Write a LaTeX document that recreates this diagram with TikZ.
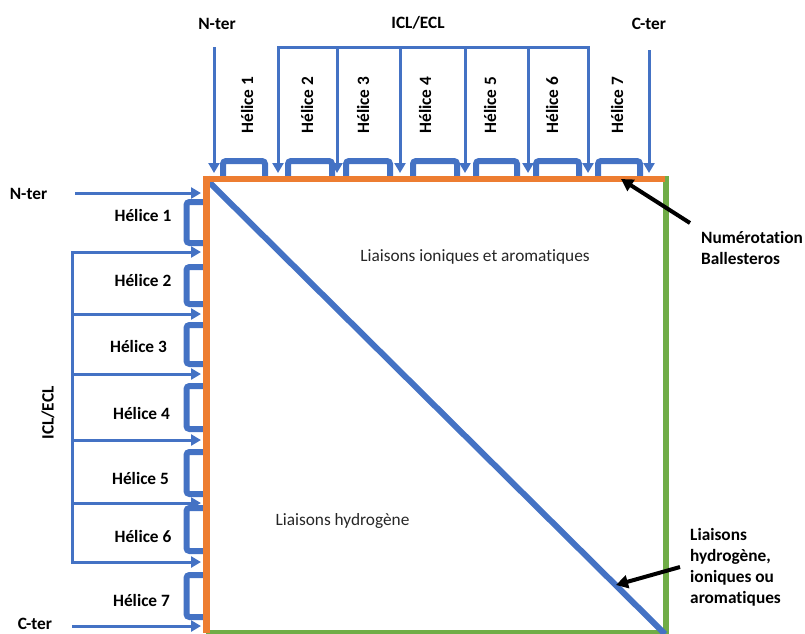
\documentclass[tikz,border=0pt]{standalone}
\usepackage{fontspec}
\setmainfont{Carlito}[Ligatures=NoCommon]
\usetikzlibrary{arrows.meta}
\definecolor{oblue}{HTML}{4472C4}
\definecolor{oorange}{HTML}{ED7D31}
\definecolor{ogreen}{HTML}{70AD47}
\definecolor{otext}{HTML}{262626}
\tikzset{
  barr/.style={draw=oblue, line width=3pt, -{Triangle[width=11pt,length=10pt]}},
  barrboth/.style={draw=oblue, line width=3pt, {Triangle[width=11pt,length=10pt]}-{Triangle[width=11pt,length=10pt]}},
  bracket/.style={draw=oblue, line width=6pt, rounded corners=3pt},
  karr/.style={draw=black, line width=4pt, -{Triangle[width=13pt,length=12pt]}},
  lbl/.style={font=\fontsize{17.3}{21}\selectfont\bfseries, inner sep=0pt},
  mid/.style={font=\fontsize{17.3}{21}\selectfont, text=otext, inner sep=0pt},
  side/.style={font=\fontsize{17.3}{21}\selectfont\bfseries, inner sep=0pt, align=left, anchor=west},
}
\begin{document}
\begin{tikzpicture}[x=1pt,y=-1pt]
\useasboundingbox (0,0) rectangle (805,633);
% ---- top labels
\node[lbl] (tn) at (217,24) {N-ter};
\node[lbl] (ti) at (418,23) {ICL/ECL};
\node[lbl] (tc) at (649,24) {C-ter};
\foreach \x/\k in {247/1,307/2,363/3,425/4,490/5,552/6,617/7}
  \node[lbl, rotate=90] (th\k) at (\x,105) {Hélice \k};
% ---- left labels
\node[lbl] (ln) at (28.5,194) {N-ter};
\node[lbl] (lc) at (35,624) {C-ter};
\node[lbl, rotate=90] (li) at (48,413) {ICL/ECL};
\foreach \x/\y/\k in {143/215/1,143/280/2,138.5/346/3,141.5/413/4,140.5/478/5,143/536/6,141.5/600/7}
  \node[lbl] (lh\k) at (\x,\y) {Hélice \k};
% ---- top brackets
\foreach \a/\b in {223/265,288/332,346/390,413/457,476/517,536/579,598/640}
  \draw[bracket] (\a,180) -- (\a,161) -- (\b,161) -- (\b,180);
% ---- left brackets
\foreach \a/\b in {202/243,267/304,325/364,386/429,452/494,508/551,575/617}
  \draw[bracket] (208,\a) -- (186.5,\a) -- (186.5,\b) -- (208,\b);
% ---- top arrows
\coordinate (tnA) at (214,47);  \coordinate (tnB) at (214,173);
\coordinate (tcA) at (649,50);  \coordinate (tcB) at (649,173);
\draw[barr] (tnA) -- (tnB);
\draw[barr] (tcA) -- (tcB);
\draw[barrboth] (278,173) -- (278,47) -- (588,47) -- (588,173);
\foreach \x in {337,400,465,528}
  \draw[barr] (\x,47) -- (\x,173);
% ---- left arrows
\coordinate (lnA) at (75,193);  \coordinate (lnB) at (201,193);
\coordinate (lcA) at (72,626);  \coordinate (lcB) at (201,626);
\draw[barr] (lnA) -- (lnB);
\draw[barr] (lcA) -- (lcB);
\draw[barrboth] (201,252) -- (72,252) -- (72,562) -- (201,562);
\foreach \y in {314,374,440,503}
  \draw[barr] (72,\y) -- (201,\y);
% ---- matrix square
\draw[ogreen, line width=6pt] (666,176) -- (666,633);
\draw[ogreen, line width=4pt] (206,632) -- (669,632);
\coordinate (dA) at (206,179);
\coordinate (dB) at (665,634);
\draw[oblue, line width=6pt] (dA) -- (dB);
\draw[oorange, line width=6pt] (203,178.5) -- (665,178.5);
\draw[oorange, line width=7pt] (206.5,175.5) -- (206.5,633);
% ---- middle texts
\node[mid] (m1) at (475,257) {Liaisons ioniques et aromatiques};
\node[mid] (m2) at (342.5,521) {Liaisons hydrogène};
% ---- right texts and pointers
\node[side] (r1) at (701,248) {Numérotation\\Ballesteros};
\node[side] (r2) at (690,567) {Liaisons\\hydrogène,\\ioniques ou\\aromatiques};
\coordinate (k1A) at (690,223); \coordinate (k1B) at (621,179);
\coordinate (k2A) at (680,567); \coordinate (k2B) at (616,585);
\draw[karr] (k1A) -- (k1B);
\draw[karr] (k2A) -- (k2B);
\end{tikzpicture}
\end{document}
